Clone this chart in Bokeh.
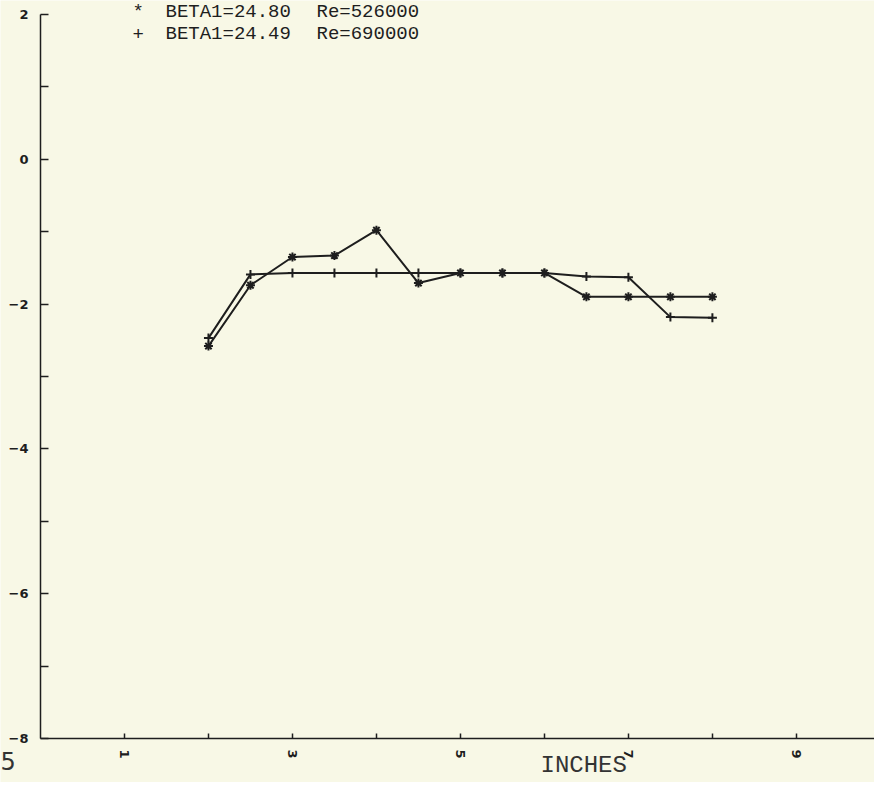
import math
from bokeh.plotting import figure
from bokeh.models import FixedTicker, Label, Range1d
from bokeh.embed import file_html
from bokeh.resources import INLINE

# ---- data ----
x_inches = [2, 2.5, 3, 3.5, 4, 4.5, 5, 5.5, 6, 6.5, 7, 7.5, 8]
beta_2480 = [-2.58, -1.74, -1.35, -1.33, -0.98, -1.71, -1.57, -1.57, -1.57, -1.90, -1.90, -1.90, -1.90]
beta_2449 = [-2.47, -1.59, -1.57, -1.57, -1.57, -1.57, -1.57, -1.57, -1.57, -1.62, -1.63, -2.18, -2.19]
legend_star = ["BETA1=24.80", "Re=526000"]
legend_plus = ["BETA1=24.49", "Re=690000"]
x_major = [1, 3, 5, 7, 9]
x_minor = [2, 4, 6, 8, 10]
y_major = [-8, -6, -4, -2, 0, 2]
y_minor = [-7, -5, -3, -1, 1]

BG = "#f8f8e6"
INK = "#1e1e1e"

W, H = 874, 782
p = figure(width=W, height=H, output_backend="svg", toolbar_location=None,
           x_range=Range1d(-0.476, 9.93), y_range=Range1d(-8.608, 2.193),
           min_border_left=0, min_border_right=0, min_border_top=0, min_border_bottom=0)
p.background_fill_color = BG
p.border_fill_color = BG
p.outline_line_color = None
p.grid.visible = False

# axes drawn inside the frame at x=0 and y=-8
p.xaxis.fixed_location = -8
p.yaxis.fixed_location = 0
for ax in (p.xaxis[0], p.yaxis[0]):
    ax.axis_line_color = INK
    ax.axis_line_width = 1.5
    ax.major_tick_line_color = INK
    ax.minor_tick_line_color = INK
    ax.major_tick_line_width = 1.5
    ax.minor_tick_line_width = 1.5
    ax.major_tick_out = 0
    ax.minor_tick_out = 0
    ax.major_label_text_color = INK
    ax.major_label_text_font = "DejaVu Sans"
    ax.major_label_text_font_style = "bold"
    ax.major_label_text_font_size = "13px"

p.xaxis.ticker = FixedTicker(ticks=x_major, minor_ticks=x_minor)
p.xaxis.bounds = (0, 10)
p.xaxis.major_tick_in = 5
p.xaxis.minor_tick_in = 5
p.xaxis.major_label_orientation = -math.pi / 2
p.xaxis.major_label_standoff = 11

p.yaxis.ticker = FixedTicker(ticks=y_major, minor_ticks=y_minor)
p.yaxis.bounds = (-8, 2)
p.yaxis.major_tick_in = 8
p.yaxis.minor_tick_in = 8
p.yaxis.major_label_standoff = 12

# series
p.line(x_inches, beta_2480, line_color=INK, line_width=2)
p.scatter(x_inches, beta_2480, marker="asterisk", size=9, line_color=INK, line_width=2)
p.line(x_inches, beta_2449, line_color=INK, line_width=2)
p.scatter(x_inches, beta_2449, marker="cross", size=9, line_color=INK, line_width=2)

# texts (screen units measured from the frame's lower-left corner)
mono = "Liberation Mono"
def lab(x, y, text, font=mono, size="19px", align="left", color=INK):
    p.add_layout(Label(x=x, y=y, x_units="screen", y_units="screen", text=text,
                       text_font=font, text_font_size=size, text_baseline="middle",
                       text_align=align, text_color=color))

lab(132, H - 11, "*")
lab(165, H - 11, legend_star[0])
lab(316, H - 11, legend_star[1])
lab(132, H - 33, "+")
lab(165, H - 33, legend_plus[0])
lab(316, H - 33, legend_plus[1])

# axis title
lab(540, H - 765, "INCHES", size="24px", color="#333333")
# stray page mark at lower left
lab(0, H - 760, "5", font="DejaVu Sans", size="24px", color="#333333")

open("out.html", "w").write(file_html(p, INLINE))
